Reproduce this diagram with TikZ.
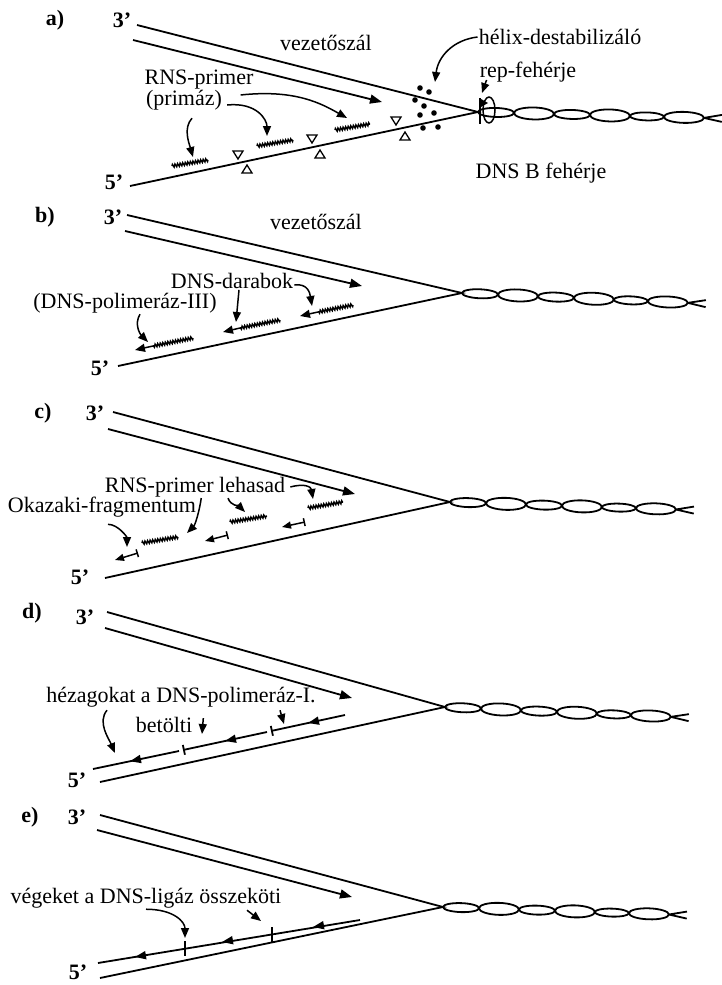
\documentclass[tikz,border=0pt]{standalone}
\usepackage{fontspec}
\setmainfont{Liberation Serif}
\usetikzlibrary{arrows.meta,decorations.pathmorphing,decorations.markings}

\begin{document}
\begin{tikzpicture}[x=1pt,y=-1pt,
    every node/.style={font=\fontsize{22}{24}\selectfont,inner sep=1pt},
    tag/.style={font=\fontsize{22}{24}\selectfont\bfseries},
    strand/.style={line width=1.8pt},
    lead/.style={strand,-{Triangle[length=12pt,width=9pt]}},
    pointer/.style={line width=1.5pt,-{Triangle[length=10pt,width=8pt]}},
    primer/.style={line width=1.4pt,decorate,decoration={zigzag,segment length=2.6pt,amplitude=1.5pt}},
    okazaki/.style={line width=1.5pt,{Bar[width=8pt]}-{Triangle[length=9pt,width=7pt]}},
    piece/.style={strand,postaction={decorate},decoration={markings,mark=at position #1 with {\arrow{Triangle[length=11pt,width=8pt]}}}},
    helix/.pic={
      \foreach \cx/\rx/\ry in {18/18/4.5, 56/20/6, 94/18/4.5, 132/20/6, 169/17/4, 206/20/5.5}
        \draw[strand] (\cx,0) ellipse [x radius=\rx, y radius=\ry];
      \draw[strand] (226,0) -- (244,-3.5) (226,0) -- (244,3.5);
    }]
\useasboundingbox (0,0) rectangle (721,985);

% a) primase, helicase, SSB
\node[tag] (pa) at (55,20) {a)};
\node[tag] (ta3) at (122,20) {3'};
\node[tag] (ta5) at (114,182) {5'};
\coordinate (a3) at (137,25);
\coordinate (aL) at (133,40);
\coordinate (aLt) at (382,102);
\coordinate (aF) at (478,112);
\coordinate (a5) at (130,186);
\draw[strand] (a3) -- (aF) -- (a5);
\draw[lead] (aL) -- (aLt);
\pic[rotate=-1.5] at (aF) {helix};
\draw[primer] (172,166) -- (208,160);
\draw[primer] (257,146) -- (293,140);
\draw[primer] (335,130) -- (370,124);
\foreach \x/\y in {238/155, 312/139, 396/121}
  \draw[line width=1.3pt] (\x-5,\y-4) -- (\x+5,\y-4) -- (\x,\y+4) -- cycle;
\foreach \x/\y in {247/169, 320/154, 405/136}
  \draw[line width=1.3pt] (\x-5,\y+4) -- (\x+5,\y+4) -- (\x,\y-4) -- cycle;
\foreach \x/\y in {420/88, 429/92, 415/100, 424/106, 420/115, 434/113, 423/128, 438/127}
  \fill (\x,\y) circle [radius=2.8];
\draw[strand] (480,98) -- (480,124);
\fill (481,99) -- (488,103) -- (481,107) -- cycle;
\draw[line width=1.5pt] (489,110) ellipse [x radius=6, y radius=13];
\node (va) at (326,43) {vezetőszál};
\node (hda) at (560,37) {hélix-destabilizáló};
\node (repa) at (528,72) {rep-fehérje};
\node (dnsb) at (541,173) {DNS B fehérje};
\node (rnsa) at (199,80) {RNS-primer};
\node (prima) at (184,100) {(primáz)};
\coordinate (hdt) at (435,82);
\coordinate (rept) at (482,93);
\coordinate (ap1) at (347,118);
\coordinate (ap2) at (267,136);
\coordinate (ap3) at (193,157);
\draw[pointer] (hda.west) .. controls +(-25,3) and +(3,-25) .. (hdt);
\draw[pointer] ([shift={(8,8)}]repa.west) -- (rept);
\draw[pointer] ([shift={(-14,15)}]rnsa.east) .. controls +(55,-6) and +(-25,-14) .. (ap1);
\draw[pointer] ([shift={(4,5)}]prima.east) .. controls +(30,-3) and +(0,-16) .. (ap2);
\draw[pointer] ([shift={(8,7)}]prima.south) .. controls +(-9,10) and +(-4,-14) .. (ap3);

% b) leading strand and DNA pieces
\node[tag] (pb) at (45,217) {b)};
\node[tag] (tb3) at (113,217) {3'};
\node[tag] (tb5) at (100,368) {5'};
\coordinate (b3) at (127,215);
\coordinate (bL) at (125,231);
\coordinate (bLt) at (362,286);
\coordinate (bF) at (462,293);
\coordinate (b5) at (118,366);
\draw[strand] (b3) -- (bF) -- (b5);
\draw[lead] (bL) -- (bLt);
\pic[rotate=-2.5] at (bF) {helix};
\draw[primer] (353,305) -- (318,312);
\draw[pointer] (318,312) -- (300,316);
\draw[primer] (280,320) -- (240,328);
\draw[pointer] (240,328) -- (223,332);
\draw[primer] (193,338) -- (153,346);
\draw[pointer] (153,346) -- (135,350);
\node (vb) at (316,222) {vezetőszál};
\node (ddb) at (232,281) {DNS-darabok};
\node (polb) at (125,303) {(DNS-polimeráz-III)};
\coordinate (bp1) at (236,322);
\coordinate (bp2) at (312,306);
\coordinate (bp3) at (148,342);
\draw[pointer] ([xshift=7pt]ddb.south) -- (bp1);
\draw[pointer] ([shift={(0,4)}]ddb.east) .. controls +(14,-2) and +(-2,-12) .. (bp2);
\draw[pointer] ([shift={(15,0)}]polb.south) .. controls +(-6,10) and +(-8,-8) .. (bp3);

% c) primers removed, Okazaki fragments
\node[tag] (pc) at (43,413) {c)};
\node[tag] (tc3) at (95,413) {3'};
\node[tag] (tc5) at (80,577) {5'};
\coordinate (c3) at (113,412);
\coordinate (cL) at (108,429);
\coordinate (cLt) at (355,494);
\coordinate (cF) at (450,502);
\coordinate (c5) at (105,578);
\draw[strand] (c3) -- (cF) -- (c5);
\draw[lead] (cL) -- (cLt);
\pic[rotate=-1.9] at (cF) {helix};
\draw[primer] (308,508) -- (343,502);
\draw[primer] (230,522) -- (267,516);
\draw[primer] (142,543) -- (178,537);
\draw[okazaki] (305,522) -- (282,527);
\draw[okazaki] (228,535) -- (205,541);
\draw[okazaki] (138,553) -- (115,560);
\node (rnsc) at (195,487) {RNS-primer lehasad};
\node (okc) at (102,507) {Okazaki-fragmentum};
\coordinate (cp1) at (313,499);
\coordinate (cp2) at (245,512);
\coordinate (cp3) at (187,533);
\coordinate (cp4) at (127,547);
\draw[pointer] ([shift={(4,0)}]rnsc.east) .. controls +(15,-4) and +(-2,-12) .. (cp1);
\draw[pointer] ([shift={(33,0)}]rnsc.south) .. controls +(3,8) and +(-6,-6) .. (cp2);
\draw[pointer] ([shift={(4,-9)}]okc.east) .. controls +(-2,14) and +(8,-8) .. (cp3);
\draw[pointer] ([shift={(6,6)}]okc.south) .. controls +(10,0) and +(0,-10) .. (cp4);

% d) gaps filled by DNA polymerase I
\node[tag] (pd) at (32,613) {d)};
\node[tag] (td3) at (85,617) {3'};
\node[tag] (td5) at (77,780) {5'};
\coordinate (d3) at (107,612);
\coordinate (dL) at (105,628);
\coordinate (dLt) at (352,698);
\coordinate (dF) at (445,707);
\coordinate (d5) at (100,782);
\draw[strand] (d3) -- (dF) -- (d5);
\draw[lead] (dL) -- (dLt);
\pic[rotate=-2.5] at (dF) {helix};
\draw[piece=0.5,-{Bar[width=10pt]}] (345,715) -- (271,731);
\draw[piece=0.5,-{Bar[width=10pt]}] (267,732) -- (183,750);
\draw[piece=0.57] (179,751) -- (93,769);
\node (hzd) at (181,697) {hézagokat a DNS-polimeráz-I.};
\node (btd) at (164,725) {betölti};
\coordinate (dp1) at (115,753);
\coordinate (dp2) at (202,734);
\coordinate (dp3) at (284,724);
\draw[pointer] ([shift={(-74,2)}]hzd.south) .. controls +(-10,12) and +(-6,-14) .. (dp1);
\draw[pointer] ([shift={(10,2)}]btd.north east) -- (dp2);
\draw[pointer] ([shift={(99,2)}]hzd.south) -- (dp3);

% e) nicks sealed by DNA ligase
\node[tag] (pe) at (30,817) {e)};
\node[tag] (te3) at (77,817) {3'};
\node[tag] (te5) at (78,972) {5'};
\coordinate (e3) at (100,815);
\coordinate (eL) at (97,830);
\coordinate (eLt) at (352,897);
\coordinate (eF) at (443,907);
\coordinate (e5) at (100,978);
\draw[strand] (e3) -- (eF) -- (e5);
\draw[lead] (eL) -- (eLt);
\pic[rotate=-1.9] at (eF) {helix};
\draw[strand] (360,920) -- (98,963);
\foreach \x/\y in {313/927, 222/942, 135/957}
  \draw[-{Triangle[length=11pt,width=8pt]},line width=1.8pt] (\x+6,\y-1) -- (\x,\y);
\draw[strand] (185,941) -- (185,956);
\draw[strand] (272,927) -- (272,942);
\node (vge) at (146,898) {végeket a DNS-ligáz összeköti};
\coordinate (ep1) at (185,938);
\coordinate (ep2) at (261,921);
\draw[pointer] (vge.south) .. controls +(28,0) and +(0,-16) .. (ep1);
\draw[pointer] ([shift={(101,1)}]vge.south) -- (ep2);
\end{tikzpicture}
\end{document}
